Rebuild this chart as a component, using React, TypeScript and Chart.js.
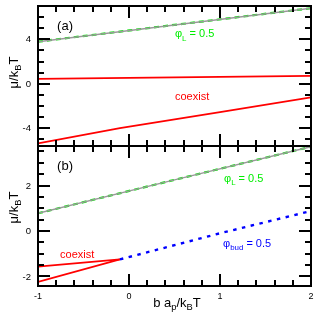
import React, { useEffect, useRef } from "react";
import { Chart, registerables } from "chart.js";
Chart.register(...registerables);

// shared x axis
const xRange = [-1, 2];
const xMajorTicks = [-1, 0, 1, 2];
const xTickLabels = ["-1", "0", "1", "2"];
const xMinorStep = 0.2;

// panel (a)
const aYRange = [-5.6, 7.0];
const aYMajorTicks = [-4, 0, 4];
const aYTickLabels = ["-4", "0", "4"];
const aYMinorStep = 1;
const aPhiLX = [-1, 0.5, 2];
const aPhiLY = [3.79, 5.3, 6.8];
const aCoexUpperX = [-1, 2];
const aCoexUpperY = [0.45, 0.72];
const aCoexLowerX = [-1, -0.1, 1, 2];
const aCoexLowerY = [-5.36, -4.0, -2.55, -1.22];

// panel (b)
const bYRange = [-2.42, 3.74];
const bYMajorTicks = [-2, 0, 2];
const bYTickLabels = ["-2", "0", "2"];
const bYMinorStep = 0.5;
const bPhiLX = [-1, 0.5, 2];
const bPhiLY = [0.78, 2.25, 3.71];
const bBudX = [-0.1, 1, 2];
const bBudY = [-1.25, -0.1, 0.88];
const bCoexUpperX = [-1, -0.1];
const bCoexUpperY = [-1.57, -1.25];
const bCoexLowerX = [-1, -0.1];
const bCoexLowerY = [-2.24, -1.25];

const FONT = '"Liberation Sans", Arial, Helvetica, sans-serif';
const RED = "#ff0000";
const GREEN = "#00ee00";
const BLUE = "#0000ff";
const GRAY = "#999999";

type Part = { t: string; sub?: boolean };

function richWidth(ctx: CanvasRenderingContext2D, parts: Part[], size: number) {
  let w = 0;
  for (const p of parts) {
    ctx.font = `${p.sub ? size * 0.72 : size}px ${FONT}`;
    w += ctx.measureText(p.t).width;
  }
  return w;
}

function drawRich(
  ctx: CanvasRenderingContext2D,
  parts: Part[],
  x: number,
  y: number,
  size: number,
  color: string,
  align: "left" | "center",
  rotate = false
) {
  ctx.save();
  ctx.translate(x, y);
  if (rotate) ctx.rotate(-Math.PI / 2);
  ctx.fillStyle = color;
  ctx.textBaseline = "alphabetic";
  ctx.textAlign = "left";
  const w = richWidth(ctx, parts, size);
  let cx = align === "center" ? -w / 2 : 0;
  for (const p of parts) {
    ctx.font = `${p.sub ? size * 0.72 : size}px ${FONT}`;
    ctx.fillText(p.t, cx, p.sub ? size * 0.3 : 0);
    cx += ctx.measureText(p.t).width;
  }
  ctx.restore();
}

const zip = (xs: number[], ys: number[]) => xs.map((x, i) => ({ x, y: ys[i] }));

type Label = { parts: Part[]; x: number; y: number; color: string; size: number };

type PanelCfg = {
  yRange: number[];
  yMajor: number[];
  yLabels: string[];
  yMinorStep: number;
  labels: Label[];
  showXLabels: boolean;
  yTitleCenter: number;
};

function ticksBetween(min: number, max: number, step: number) {
  const out: number[] = [];
  const start = Math.ceil(min / step - 1e-9);
  const end = Math.floor(max / step + 1e-9);
  for (let i = start; i <= end; i++) out.push(i * step);
  return out;
}

const TICK_COLOR = "#000000";
const TICK_W = 2;

function framePlugin(cfg: PanelCfg) {
  return {
    id: "panelFrame",
    afterDraw(chart: any) {
      const ctx: CanvasRenderingContext2D = chart.ctx;
      const area = chart.chartArea;
      const left = area.left, right = area.right, top = area.top, bottom = area.bottom;
      const xs = chart.scales.x;
      const ys = chart.scales.y;
      ctx.save();
      ctx.fillStyle = TICK_COLOR;
      const xt = ticksBetween(xRange[0], xRange[1], xMinorStep);
      for (const v of xt) {
        const major = xMajorTicks.some((m) => Math.abs(m - v) < 1e-6);
        const len = major ? 12 : 6;
        const px = Math.round(xs.getPixelForValue(v)) - 1;
        ctx.fillRect(px, bottom - len, TICK_W, len);
        ctx.fillRect(px, top, TICK_W, len);
      }
      const yt = ticksBetween(cfg.yRange[0], cfg.yRange[1], cfg.yMinorStep);
      for (const v of yt) {
        const major = cfg.yMajor.some((m) => Math.abs(m - v) < 1e-6);
        const len = major ? 12 : 6;
        const py = Math.round(ys.getPixelForValue(v)) - 1;
        ctx.fillRect(left, py, len, TICK_W);
        ctx.fillRect(right - len, py, len, TICK_W);
      }
      ctx.strokeStyle = "#000000";
      ctx.lineWidth = 2;
      ctx.strokeRect(left, top, right - left, bottom - top);

      ctx.fillStyle = "#000000";
      ctx.font = `9.5px ${FONT}`;
      ctx.textAlign = "right";
      ctx.textBaseline = "middle";
      cfg.yMajor.forEach((v, i) => {
        ctx.fillText(cfg.yLabels[i], left - 7, ys.getPixelForValue(v) + 0.5);
      });
      if (cfg.showXLabels) {
        ctx.textAlign = "center";
        ctx.font = `9px ${FONT}`;
        xMajorTicks.forEach((v, i) => {
          ctx.fillText(xTickLabels[i], xs.getPixelForValue(v), bottom + 11);
        });
        drawRich(
          ctx,
          [{ t: "b a" }, { t: "p", sub: true }, { t: "/k" }, { t: "B", sub: true }, { t: "T" }],
          177,
          bottom + 20.5,
          13,
          "#000",
          "center"
        );
      }
      drawRich(
        ctx,
        [{ t: "μ/k" }, { t: "B", sub: true }, { t: "T" }],
        17.5,
        cfg.yTitleCenter,
        13,
        "#000",
        "center",
        true
      );
      for (const l of cfg.labels) {
        drawRich(ctx, l.parts, xs.getPixelForValue(l.x), ys.getPixelForValue(l.y), l.size, l.color, "left");
      }
      ctx.restore();
    },
  };
}

function makeChart(
  canvas: HTMLCanvasElement,
  datasets: any[],
  cfg: PanelCfg,
  padding: { top: number; bottom: number }
) {
  return new Chart(canvas, {
    type: "line",
    data: { datasets },
    options: {
      animation: false,
      responsive: false,
      devicePixelRatio: 1,
      layout: { padding: { left: 38, right: 14, top: padding.top, bottom: padding.bottom } },
      plugins: { legend: { display: false }, tooltip: { enabled: false } },
      elements: { point: { radius: 0 }, line: { tension: 0 } },
      scales: {
        x: { type: "linear", min: xRange[0], max: xRange[1], display: false },
        y: { type: "linear", min: cfg.yRange[0], max: cfg.yRange[1], display: false },
      },
    },
    plugins: [framePlugin(cfg)],
  } as any);
}

const phiLDatasets = (xs: number[], ys: number[]) => [
  { data: zip(xs, ys), borderColor: GRAY, borderWidth: 1.5 },
  { data: zip(xs, ys), borderColor: GREEN, borderWidth: 2.2, borderDash: [5, 4] },
];

export default function App() {
  const refA = useRef<HTMLCanvasElement>(null);
  const refB = useRef<HTMLCanvasElement>(null);

  useEffect(() => {
    const chartA = makeChart(
      refA.current!,
      [
        ...phiLDatasets(aPhiLX, aPhiLY),
        { data: zip(aCoexUpperX, aCoexUpperY), borderColor: RED, borderWidth: 1.8 },
        { data: zip(aCoexLowerX, aCoexLowerY), borderColor: RED, borderWidth: 1.8 },
      ],
      {
        yRange: aYRange,
        yMajor: aYMajorTicks,
        yLabels: aYTickLabels,
        yMinorStep: aYMinorStep,
        showXLabels: false,
        yTitleCenter: 72.5,
        labels: [
          { parts: [{ t: "(a)" }], x: -0.79, y: 4.84, color: "#000", size: 13 },
          { parts: [{ t: "φ" }, { t: "L", sub: true }, { t: " = 0.5" }], x: 0.505, y: 4.17, color: GREEN, size: 11 },
          { parts: [{ t: "coexist" }], x: 0.505, y: -1.46, color: RED, size: 11 },
        ],
      },
      { top: 6, bottom: 6 }
    );
    const chartB = makeChart(
      refB.current!,
      [
        ...phiLDatasets(bPhiLX, bPhiLY),
        { data: zip(bBudX, bBudY), borderColor: BLUE, borderWidth: 2.4, borderDash: [3.5, 5.5] },
        { data: zip(bCoexUpperX, bCoexUpperY), borderColor: RED, borderWidth: 1.8 },
        { data: zip(bCoexLowerX, bCoexLowerY), borderColor: RED, borderWidth: 1.8 },
      ],
      {
        yRange: bYRange,
        yMajor: bYMajorTicks,
        yLabels: bYTickLabels,
        yMinorStep: bYMinorStep,
        showXLabels: true,
        yTitleCenter: 67.5,
        labels: [
          { parts: [{ t: "(b)" }], x: -0.79, y: 2.68, color: "#000", size: 13 },
          { parts: [{ t: "φ" }, { t: "L", sub: true }, { t: " = 0.5" }], x: 1.044, y: 2.16, color: GREEN, size: 11 },
          { parts: [{ t: "φ" }, { t: "bud", sub: true }, { t: " = 0.5" }], x: 1.033, y: -0.7, color: BLUE, size: 11 },
          { parts: [{ t: "coexist" }], x: -0.758, y: -1.19, color: RED, size: 11 },
        ],
      },
      { top: 6, bottom: 28 }
    );
    return () => {
      chartA.destroy();
      chartB.destroy();
    };
  }, []);

  return (
    <div style={{ position: "fixed", left: 0, top: 0, width: 325, height: 314, background: "#fff" }}>
      <canvas ref={refA} width={325} height={152} style={{ position: "absolute", left: 0, top: 0 }} />
      <canvas ref={refB} width={325} height={174} style={{ position: "absolute", left: 0, top: 140 }} />
    </div>
  );
}
